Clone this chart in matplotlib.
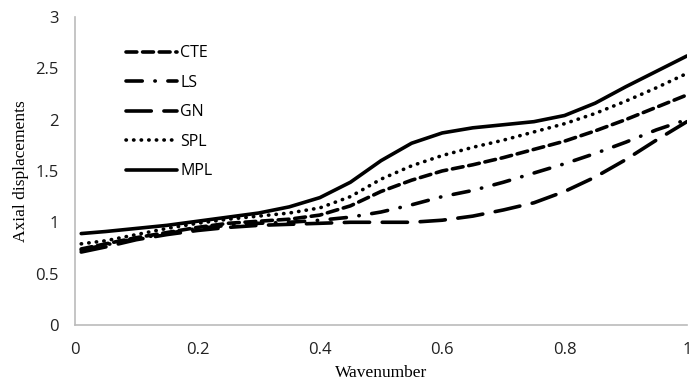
import numpy as np
import matplotlib.pyplot as plt

plt.rcParams['font.family'] = ['Open Sans', 'DejaVu Sans']

# wavenumber samples
k = [0.01, 0.05, 0.1, 0.15, 0.2, 0.25, 0.3, 0.35, 0.4, 0.45, 0.5,
     0.55, 0.6, 0.65, 0.7, 0.75, 0.8, 0.85, 0.9, 0.95, 1.0]

cte = [0.74, 0.79, 0.85, 0.90, 0.95, 0.99, 1.01, 1.03, 1.07, 1.16, 1.30,
       1.41, 1.50, 1.56, 1.63, 1.71, 1.79, 1.89, 2.00, 2.12, 2.24]
ls = [0.73, 0.78, 0.84, 0.89, 0.94, 0.97, 0.99, 1.00, 1.02, 1.05, 1.10,
      1.17, 1.25, 1.31, 1.39, 1.48, 1.57, 1.67, 1.78, 1.90, 2.00]
gn = [0.71, 0.76, 0.83, 0.88, 0.92, 0.95, 0.97, 0.98, 0.99, 1.00, 1.00,
      1.00, 1.02, 1.06, 1.12, 1.19, 1.30, 1.44, 1.61, 1.80, 1.98]
spl = [0.79, 0.82, 0.88, 0.94, 0.99, 1.03, 1.06, 1.09, 1.14, 1.25, 1.42,
       1.55, 1.65, 1.73, 1.80, 1.88, 1.96, 2.06, 2.18, 2.31, 2.45]
mpl = [0.89, 0.91, 0.94, 0.97, 1.01, 1.05, 1.09, 1.15, 1.24, 1.39, 1.60,
       1.77, 1.87, 1.92, 1.95, 1.98, 2.04, 2.16, 2.32, 2.47, 2.62]

xticks = [0, 0.2, 0.4, 0.6, 0.8, 1]
xticklabels = ['0', '0.2', '0.4', '0.6', '0.8', '1']
yticks = [0, 0.5, 1, 1.5, 2, 2.5, 3]
yticklabels = ['0', '0.5', '1', '1.5', '2', '2.5', '3']

fig = plt.figure(figsize=(6.89, 3.85), dpi=100)
ax = fig.add_axes([0.109, 0.156, 0.888, 0.8])

lw = 2.6
kw = dict(color='black', lw=lw, dash_capstyle='round', solid_capstyle='round')
ax.plot(k, cte, dashes=(3.0, 1.6), label='CTE', **kw)
ax.plot(k, ls, dashes=(4.5, 3.5, 0.1, 3.5), label='LS', **kw)
ax.plot(k, gn, dashes=(7, 3.5), label='GN', **kw)
ax.plot(k, spl, dashes=(0.1, 2.0), label='SPL', **kw)
ax.plot(k, mpl, label='MPL', **kw)

ax.set_xlim(0, 1)
ax.set_ylim(0, 3)
ax.set_xticks(xticks)
ax.set_xticklabels(xticklabels)
ax.set_yticks(yticks)
ax.set_yticklabels(yticklabels)
ax.tick_params(length=0, labelsize=12, pad=12, labelcolor='#222222')

for s in ['top', 'right']:
    ax.spines[s].set_visible(False)
for s in ['left', 'bottom']:
    ax.spines[s].set_color('#bbbbbb')
    ax.spines[s].set_linewidth(1.2)

ax.set_xlabel('Wavenumber', family='Liberation Serif', fontsize=12.5, labelpad=5)
ax.set_ylabel('Axial displacements', family='Liberation Serif', fontsize=12.5, labelpad=4)

leg = ax.legend(loc='upper left', bbox_to_anchor=(0.06, 0.955), frameon=False,
                handlelength=3.2, handletextpad=0.2, labelspacing=0.85,
                prop={'family': 'Open Sans', 'size': 11.5})

fig.savefig('out.png', dpi=100)
